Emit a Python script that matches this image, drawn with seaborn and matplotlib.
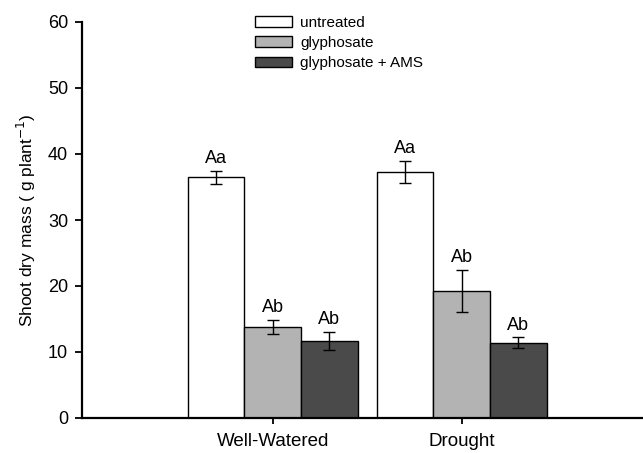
import matplotlib
matplotlib.use("Agg")
import matplotlib.pyplot as plt
import seaborn as sns
import pandas as pd
import numpy as np
from matplotlib.patches import Patch

conditions = ["Well-Watered", "Drought"]
treatments = ["untreated", "glyphosate", "glyphosate + AMS"]
means = {
    "untreated": [36.5, 37.3],
    "glyphosate": [13.8, 19.2],
    "glyphosate + AMS": [11.7, 11.4],
}
errors = {
    "untreated": [1.0, 1.65],
    "glyphosate": [1.1, 3.2],
    "glyphosate + AMS": [1.4, 0.8],
}
letters = {
    "untreated": ["Aa", "Aa"],
    "glyphosate": ["Ab", "Ab"],
    "glyphosate + AMS": ["Ab", "Ab"],
}
colors = ["#ffffff", "#b3b3b3", "#4a4a4a"]

rows = []
for t in treatments:
    for c, m in zip(conditions, means[t]):
        rows.append({"condition": c, "treatment": t, "value": m})
df = pd.DataFrame(rows)

sns.set_style("ticks")
plt.rcParams["font.family"] = ["Liberation Sans", "DejaVu Sans"]
plt.rcParams["text.color"] = "black"
plt.rcParams["axes.labelcolor"] = "black"

W, H = 643, 453
fig = plt.figure(figsize=(W / 100, H / 100), dpi=100)
ax = fig.add_axes([82 / W, 1 - 418 / H, 1 - 82 / W, (418 - 22) / H])

sns.barplot(data=df, x="condition", y="value", hue="treatment", order=conditions,
            hue_order=treatments, palette=colors, width=0.9, errorbar=None,
            edgecolor="black", linewidth=1.0, ax=ax, legend=False)

for t, cont in zip(treatments, ax.containers):
    xs = [p.get_x() + p.get_width() / 2 for p in cont.patches]
    ys = [p.get_height() for p in cont.patches]
    ax.errorbar(xs, ys, yerr=errors[t], fmt="none", ecolor="black",
                elinewidth=1.0, capsize=4.5, capthick=1.0)
    for x, y, e, lab in zip(xs, ys, errors[t], letters[t]):
        ax.text(x, y + e + 0.6, lab, ha="center", va="bottom", fontsize=13, color="black")

ax.set_xlim(-1.01, 1.96)
ax.set_ylim(0, 60)
ax.set_yticks(range(0, 61, 10))
ax.tick_params(axis="y", labelsize=13, direction="out", length=5, width=1.3,
               colors="black", pad=5)
ax.tick_params(axis="x", labelsize=13.5, direction="out", length=4, width=1.3,
               colors="black", pad=7)
ax.set_xlabel("")
ax.set_ylabel("Shoot dry mass ( g plant$^{-1}$)", fontsize=12.5, labelpad=7)
for s in ["top", "right"]:
    ax.spines[s].set_visible(False)
for s in ["left", "bottom"]:
    ax.spines[s].set_linewidth(1.6)
    ax.spines[s].set_color("black")

handles = [Patch(facecolor=c, edgecolor="black", linewidth=1.0) for c in colors]
ax.legend(handles, treatments, loc="upper left",
          bbox_to_anchor=(249 / W, 1 - 10 / H), bbox_transform=fig.transFigure,
          frameon=False, fontsize=11, handlelength=2.4, handleheight=0.72,
          labelspacing=0.4, handletextpad=0.55, borderaxespad=0)

fig.savefig("out.png", dpi=100)
